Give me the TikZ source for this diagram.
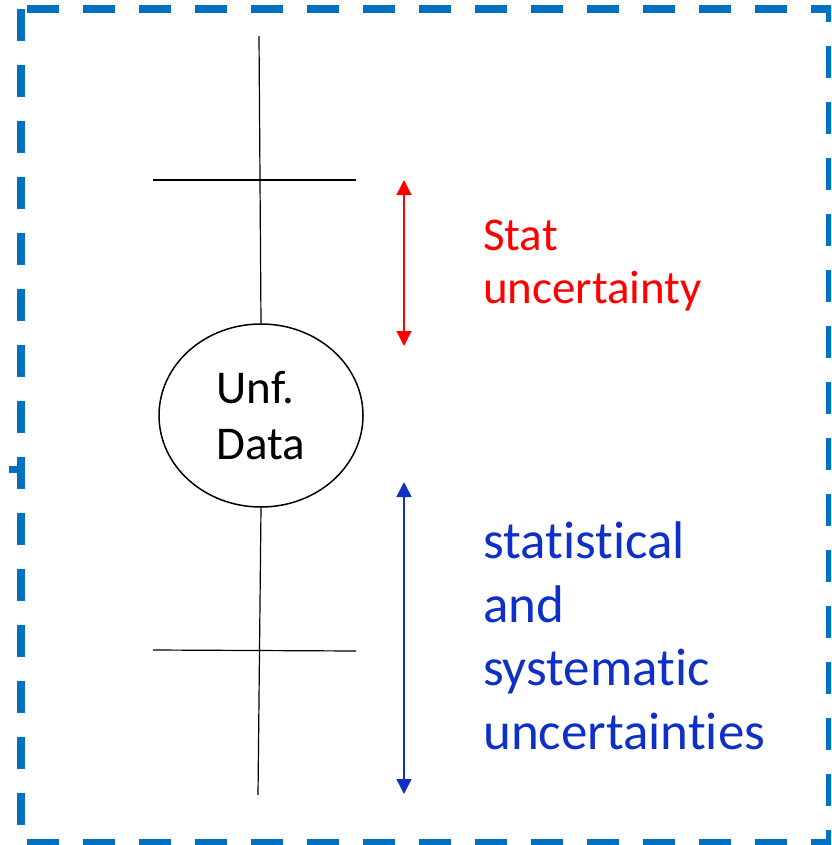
\documentclass[tikz,border=0pt]{standalone}
\usepackage{fontspec}
\setmainfont{Carlito}[Ligatures=NoCommon]
\usepackage{xcolor}
\definecolor{cFrame}{HTML}{0070C0}
\definecolor{cStat}{HTML}{FF0000}
\definecolor{cSys}{HTML}{0F30C8}
\usetikzlibrary{positioning,arrows.meta,shapes.geometric}
\tikzset{
  node-data/.style={draw=black,line width=1.5pt,ellipse,inner sep=0pt,
    minimum width=204pt,minimum height=183pt,align=left,
    font=\fontsize{47}{56}\selectfont},
  node-label/.style={inner sep=0pt,align=left,anchor=base west},
  frame-dashed/.style={draw=cFrame,line width=8pt,dash pattern=on 32pt off 24pt},
  bar-line/.style={draw=black,line width=1.2pt},
  arrow-stat/.style={{Triangle[length=15pt,width=15pt]}-{Triangle[length=15pt,width=15pt]},line width=1.5pt,draw=cStat,fill=cStat},
  arrow-sys/.style={{Triangle[length=15pt,width=15pt]}-{Triangle[length=15pt,width=15pt]},line width=1.5pt,draw=cSys,fill=cSys},
}

\begin{document}
\begin{tikzpicture}[x=1pt,y=-1pt]
  \useasboundingbox (0,0) rectangle (831,845);
  \begin{scope}
    \clip (0,0) rectangle (831,845);
    \draw[frame-dashed] (21,9) rectangle (830,843);
    \draw[draw=cFrame,line width=7pt] (9,469.5) -- (21,469.5);
  \end{scope}
  % the data point with its error bars
  \node[node-data] (data) at (261,415.5) {Unf.\\Data};
  \coordinate (top)    at (259,36);
  \coordinate (bottom) at (258,795);
  \draw[bar-line] (top) -- (data.north);
  \draw[bar-line] (data.south) -- (bottom);
  \coordinate (stat-l) at (153,180);
  \coordinate (stat-r) at (356,180);
  \coordinate (sys-l)  at (153,650);
  \coordinate (sys-r)  at (356,651);
  \draw[bar-line] (stat-l) -- (stat-r);
  \draw[bar-line] (sys-l) -- (sys-r);
  % ranges
  \coordinate (stat-hi) at (404,180);
  \coordinate (stat-lo) at (404,346);
  \coordinate (sys-hi)  at (404,482);
  \coordinate (sys-lo)  at (404,794);
  \draw[arrow-stat] (stat-hi) -- (stat-lo);
  \draw[arrow-sys]  (sys-hi) -- (sys-lo);
  \node[node-label,text=cStat,font=\fontsize{47}{52.5}\selectfont] (stat-txt) at (483,303) {Stat\\uncertainty};
  \node[node-label,text=cSys,font=\fontsize{53}{63.5}\selectfont] (sys-txt) at (483,749) {statistical\\and\\systematic\\uncertainties};
\end{tikzpicture}
\end{document}
